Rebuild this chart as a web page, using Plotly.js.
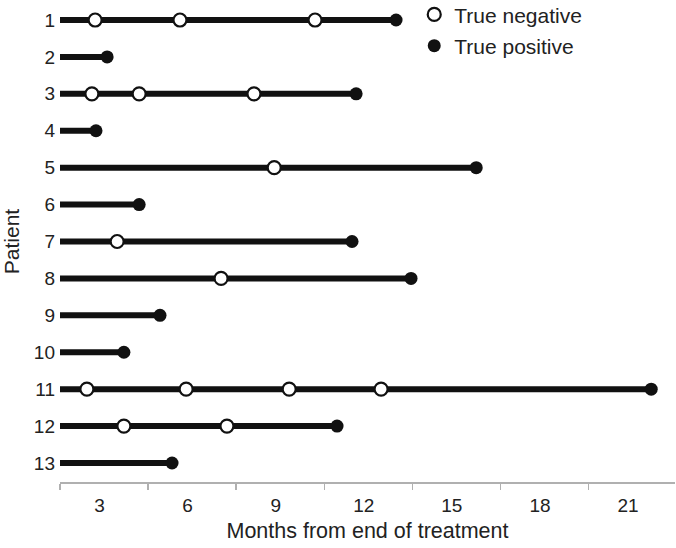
<!DOCTYPE html>
<html>
<head>
<meta charset="utf-8">
<script src="https://cdn.plot.ly/plotly-3.0.1.min.js"></script>
<style>html,body{margin:0;padding:0;background:#fff;}#chart{width:676px;height:548px;}</style>
</head>
<body>
<div id="chart"></div>
<script>
// Data
const patients = ['1','2','3','4','5','6','7','8','9','10','11','12','13'];
const followStart = 0;
const trueNegative = [
  [2.85, 5.74, 10.34],
  [],
  [2.74, 4.35, 8.26],
  [],
  [8.95],
  [],
  [3.60],
  [7.14],
  [],
  [],
  [2.57, 5.95, 9.46, 12.59],
  [3.83, 7.34],
  []
];
const truePositive = [13.10, 3.26, 11.74, 2.88, 15.83, 4.35, 11.60, 13.61, 5.06, 3.83, 21.79, 11.09, 5.47];
const tickLabels = [3, 6, 9, 12, 15, 18, 21];

const xMin = 1.654, xMax = 22.6;
const boundaries = tickLabels.map((v, i) => xMin + 3 * i);
boundaries.push(xMin + 3 * tickLabels.length);

const ink = '#111111';
const font = 'Liberation Sans, Arial, sans-serif';
const traces = [];
patients.forEach((p, i) => {
  traces.push({
    x: [followStart, truePositive[i]], y: [i + 1, i + 1],
    mode: 'lines', line: {color: ink, width: 6},
    showlegend: false, hoverinfo: 'skip', xaxis: 'x', yaxis: 'y'
  });
});
const negX = [], negY = [];
trueNegative.forEach((arr, i) => arr.forEach(v => { negX.push(v); negY.push(i + 1); }));
traces.push({
  x: negX, y: negY, mode: 'markers', name: 'True negative', legendgroup: 'a',
  marker: {color: '#ffffff', size: 13, line: {color: ink, width: 2.2}},
  cliponaxis: false
});
traces.push({
  x: truePositive, y: patients.map((p, i) => i + 1), mode: 'markers', name: 'True positive', legendgroup: 'b',
  marker: {color: ink, size: 13, line: {width: 0}},
  cliponaxis: false
});
// invisible trace that carries the label axis
traces.push({x: [xMin], y: [1], xaxis: 'x2', yaxis: 'y', mode: 'markers', marker: {opacity: 0}, showlegend: false, hoverinfo: 'skip'});

const layout = {
  width: 676, height: 548,
  margin: {l: 60, r: 1, t: 1, b: 66, autoexpand: false},
  paper_bgcolor: '#ffffff', plot_bgcolor: '#ffffff',
  font: {family: font, size: 19, color: '#222222'},
  showlegend: true,
  legend: {x: 0.576, xanchor: 'left', y: 1.014, yanchor: 'top', font: {size: 21, color: '#222'},
           traceorder: 'grouped', tracegroupgap: 1, itemwidth: 30, bgcolor: 'rgba(0,0,0,0)'},
  xaxis: {
    range: [xMin, xMax], showgrid: false, zeroline: false,
    showline: true, linecolor: '#b0b0b0', linewidth: 2,
    tickmode: 'array', tickvals: boundaries, ticktext: boundaries.map(() => ''),
    ticks: 'outside', ticklen: 6, tickwidth: 1.5, tickcolor: '#b0b0b0',
    title: {text: 'Months from end of treatment', font: {size: 21.5, color: '#222'}, standoff: 30}
  },
  xaxis2: {
    overlaying: 'x', side: 'bottom', anchor: 'y', range: [xMin, xMax],
    showgrid: false, zeroline: false, showline: false, ticks: '',
    tickmode: 'array', tickvals: tickLabels, ticktext: tickLabels.map(String),
    tickfont: {size: 19, color: '#222'}, ticklabelstandoff: 10
  },
  yaxis: {
    range: [13.515, 0.485], showgrid: false, zeroline: false, showline: false,
    tickmode: 'array', tickvals: patients.map((p, i) => i + 1), ticktext: patients,
    ticks: '', tickfont: {size: 19, color: '#222'}, ticklabelstandoff: 4,
    title: {text: 'Patient', font: {size: 21, color: '#222'}, standoff: 8}
  }
};
Plotly.newPlot('chart', traces, layout, {displayModeBar: false, staticPlot: true});
</script>
</body>
</html>
